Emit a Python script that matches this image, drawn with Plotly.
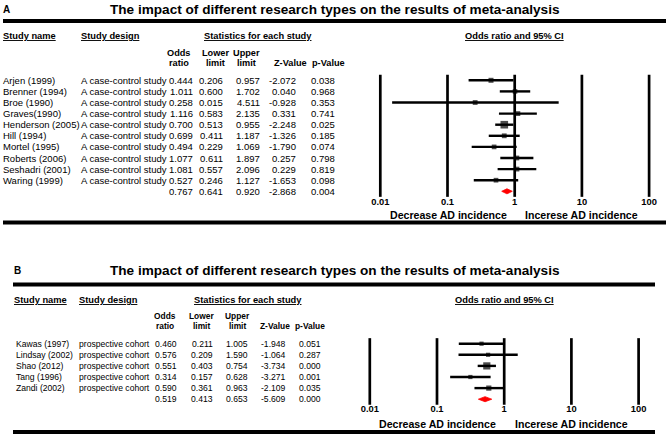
import plotly.graph_objects as go

# ---------------- data ----------------
ticks = [0.01, 0.1, 1, 10, 100]
tick_labels = ["0.01", "0.1", "1", "10", "100"]

title_text = "The impact of different research types on the results of meta-analysis"

studies_A = ["Arjen (1999)", "Brenner (1994)", "Broe (1990)", "Graves(1990)", "Henderson (2005)",
             "Hill (1994)", "Mortel (1995)", "Roberts (2006)", "Seshadri (2001)", "Waring (1999)"]
design_A = "A case-control study"
or_A = [0.444, 1.011, 0.258, 1.116, 0.700, 0.699, 0.494, 1.077, 1.081, 0.527]
lower_A = [0.206, 0.600, 0.015, 0.583, 0.513, 0.411, 0.229, 0.611, 0.557, 0.246]
upper_A = [0.957, 1.702, 4.511, 2.135, 0.955, 1.187, 1.069, 1.897, 2.096, 1.127]
z_A = [-2.072, 0.040, -0.928, 0.331, -2.248, -1.326, -1.790, 0.257, 0.229, -1.653]
p_A = [0.038, 0.968, 0.353, 0.741, 0.025, 0.185, 0.074, 0.798, 0.819, 0.098]
weight_A = [5.0, 4.6, 4.8, 4.8, 7.6, 4.8, 4.7, 4.8, 4.8, 4.7]   # relative square sizes
summary_A = [0.767, 0.641, 0.920, -2.868, 0.004]

studies_B = ["Kawas (1997)", "Lindsay (2002)", "Shao (2012)", "Tang (1996)", "Zandi (2002)"]
design_B = "prospective cohort"
or_B = [0.460, 0.576, 0.551, 0.314, 0.590]
lower_B = [0.211, 0.209, 0.403, 0.157, 0.361]
upper_B = [1.005, 1.590, 0.754, 0.628, 0.963]
z_B = [-1.948, -1.064, -3.734, -3.271, -2.109]
p_B = [0.051, 0.287, 0.000, 0.001, 0.035]
weight_B = [4.2, 4.2, 7.2, 4.2, 5.2]
summary_B = [0.519, 0.413, 0.653, -5.609, 0.000]

# ---------------- layout / style ----------------
W, H = 669, 437
FONT = "Arial, 'Liberation Sans', Helvetica, sans-serif"
DECADE = 67.2

PA = dict(label="A", label_x=3, title_y=9, line_top_y=21, line_x=(3, 666),
          hdr_y=36, name_x=3, design_x=81, stats_x=204, sub1_y=53, sub2_y=63,
          col_right=[193, 223, 260, 296, 335], col_hdr=[179, 215, 247, 290, 328],
          row0=80.3, rowh=11.1, one_px=514.7, tick_y=203, dec_y=215, line_bot_y=222.5,
          dom_y=(18, 228), body_fs=9.5, sub_fs=9.2, hdr_fs=9.3, xa="x", ya="y")
PB = dict(label="B", label_x=14, title_y=270, line_top_y=284.5, line_x=(13, 655),
          hdr_y=299.5, name_x=16, design_x=79, stats_x=194, sub1_y=316, sub2_y=326,
          col_right=[177, 213, 248, 286, 321], col_hdr=[165, 201, 237, 275, 310],
          row0=343.7, rowh=11.1, one_px=504.2, tick_y=410, dec_y=424, line_bot_y=432,
          dom_y=(236, 437), body_fs=8.6, sub_fs=8.4, hdr_fs=9.3, xa="x2", ya="y2")

fig = go.Figure()
annotations = []
shapes = []


def ann(text, x_px, y, yref, size, anchor="left", color="black"):
    annotations.append(dict(text=text, x=x_px / W, xref="paper", y=y, yref=yref,
                            xanchor=anchor, yanchor="middle", showarrow=False,
                            borderpad=0, borderwidth=0,
                            font=dict(size=size, family=FONT, color=color)))


def py(y_px):
    return 1 - y_px / H


def add_panel(P, names, design, ors, los, his, zs, ps, weights, summ):
    n = len(names)
    rows = list(range(n))
    srow = n
    xa, ya = P["xa"], P["ya"]

    def r(y_px):
        return (y_px - P["row0"]) / P["rowh"]

    common = dict(xaxis=xa, yaxis=ya, hoverinfo="skip", showlegend=False)
    # reference lines at each tick
    vx, vy = [], []
    for t in ticks:
        vx += [t, t, None]
        vy += [-0.5, n + 0.5, None]
    fig.add_trace(go.Scatter(x=vx, y=vy, mode="lines",
                             line=dict(color="black", width=2.7), **common))
    # confidence intervals
    cx, cy = [], []
    for row, lo, hi in zip(rows, los, his):
        cx += [lo, hi, None]
        cy += [row, row, None]
    fig.add_trace(go.Scatter(x=cx, y=cy, mode="lines",
                             line=dict(color="black", width=2.4), **common))
    # point estimates
    fig.add_trace(go.Scatter(x=ors, y=rows, mode="markers",
                             marker=dict(symbol="square", size=weights, color="black",
                                         line=dict(width=0)), **common))
    # summary diamond
    s_or, s_lo, s_hi = summ[0], summ[1], summ[2]
    hh = 0.23
    fig.add_trace(go.Scatter(x=[s_lo, s_or, s_hi, s_or, s_lo],
                             y=[srow, srow - hh, srow, srow + hh, srow],
                             mode="lines", fill="toself", fillcolor="#ff0000",
                             line=dict(color="#ff0000", width=0.8), **common))
    # tick labels
    fig.add_trace(go.Scatter(x=ticks, y=[r(P["tick_y"])] * len(ticks), mode="text",
                             text=["<b>%s</b>" % t for t in tick_labels],
                             textposition="middle center", cliponaxis=False,
                             textfont=dict(size=9.4, family=FONT, color="black"), **common))

    # ---- text
    ann("<b>%s</b>" % P["label"], P["label_x"], py(P["title_y"]), "paper", 10)
    ann("<b>%s</b>" % title_text, 334.5, py(P["title_y"]), "paper", 13.6, anchor="center")
    ann("<b><u>Study name</u></b>", P["name_x"] if P["label"] == "A" else P["label_x"],
        py(P["hdr_y"]), "paper", P["hdr_fs"])
    ann("<b><u>Study design</u></b>", P["design_x"], py(P["hdr_y"]), "paper", P["hdr_fs"])
    ann("<b><u>Statistics for each study</u></b>", P["stats_x"], py(P["hdr_y"]), "paper", P["hdr_fs"])
    ann("<b><u>Odds ratio and 95% CI</u></b>", P["one_px"], py(P["hdr_y"]), "paper",
        P["hdr_fs"], anchor="center")
    sub = [("Odds", "ratio"), ("Lower", "limit"), ("Upper", "limit"), (None, "Z-Value"), (None, "p-Value")]
    for (a, b), cxp in zip(sub, P["col_hdr"]):
        if a:
            ann("<b>%s</b>" % a, cxp, py(P["sub1_y"]), "paper", P["sub_fs"], anchor="center")
        ann("<b>%s</b>" % b, cxp, py(P["sub2_y"]), "paper", P["sub_fs"], anchor="center")

    for row in rows:
        ann(names[row], P["name_x"], row, ya, P["body_fs"])
        ann(design, P["design_x"], row, ya, P["body_fs"])
        vals = [ors[row], los[row], his[row], zs[row], ps[row]]
        for v, xr in zip(vals, P["col_right"]):
            ann("%.3f" % v, xr, row, ya, P["body_fs"], anchor="right")
    for v, xr in zip(summ, P["col_right"]):
        ann("%.3f" % v, xr, srow, ya, P["body_fs"], anchor="right")

    ann("<b>Decrease AD incidence</b>", P["one_px"] - 8, py(P["dec_y"]), "paper", 10.6, anchor="right")
    ann("<b>Incerese AD incidence</b>", P["one_px"] + 10.5, py(P["dec_y"]), "paper", 10.6, anchor="left")

    for yl in (P["line_top_y"], P["line_bot_y"]):
        shapes.append(dict(type="line", xref="paper", yref="paper",
                           x0=P["line_x"][0] / W, x1=P["line_x"][1] / W, y0=py(yl), y1=py(yl),
                           line=dict(color="black", width=4)))

    # axes
    d0, d1 = 350, 669
    xr_lo = (d0 - P["one_px"]) / DECADE
    xr_hi = (d1 - P["one_px"]) / DECADE
    top, bot = P["dom_y"]
    xname = "xaxis" if xa == "x" else "xaxis2"
    yname = "yaxis" if ya == "y" else "yaxis2"
    fig.layout[xname] = dict(type="log", range=[xr_lo, xr_hi], domain=[d0 / W, d1 / W],
                             visible=False, anchor=ya, fixedrange=True)
    fig.layout[yname] = dict(range=[r(bot), r(top)], domain=[py(bot), py(top)],
                             visible=False, anchor=xa, fixedrange=True)


add_panel(PA, studies_A, design_A, or_A, lower_A, upper_A, z_A, p_A, weight_A, summary_A)
add_panel(PB, studies_B, design_B, or_B, lower_B, upper_B, z_B, p_B, weight_B, summary_B)

fig.update_layout(width=W, height=H, margin=dict(l=0, r=0, t=0, b=0),
                  paper_bgcolor="white", plot_bgcolor="white",
                  annotations=annotations, shapes=shapes,
                  font=dict(family=FONT, color="black"))

fig.write_html("out.html", config={"displayModeBar": False, "staticPlot": True},
               post_script="document.body.style.margin='0px';"
                           "document.body.style.overflow='hidden';")
